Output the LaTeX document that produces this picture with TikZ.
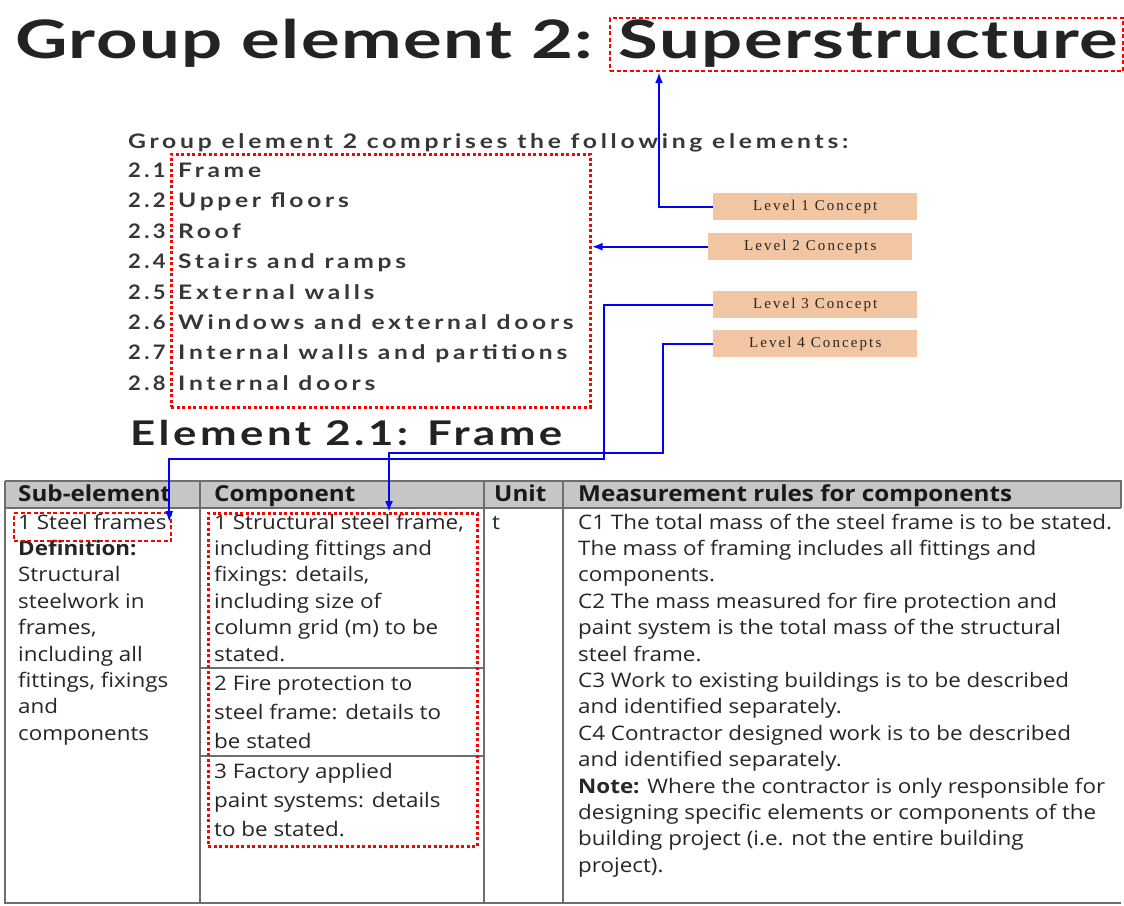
\documentclass[tikz,border=0pt]{standalone}
\usepackage{graphicx}
\usepackage{fontspec}
\setmainfont{Open Sans}
\newfontfamily\gill{Lato}[LetterSpace=2]
\newfontfamily\gillsp{Lato}[LetterSpace=15]
\newfontfamily\gillmd{Lato}[LetterSpace=8]
\newfontfamily\tms{Liberation Serif}[LetterSpace=14]
\usetikzlibrary{arrows.meta}
\newcommand\hstretch[2]{\scalebox{#1}[1]{#2}}
\newcommand\celltext[1]{\hstretch{1.12}{#1}}
\definecolor{tanbox}{RGB}{242,198,162}
\definecolor{headgray}{RGB}{198,198,198}
\definecolor{ruleg}{RGB}{110,110,110}
\definecolor{inkdark}{RGB}{35,35,35}
\definecolor{inklist}{RGB}{55,55,55}
\begin{document}
\begin{tikzpicture}[x=1pt,y=-1pt,
  redbox/.style={draw=red, line width=2.2pt, dash pattern=on 4pt off 2.5pt, inner sep=0, fill=none},
  reddot/.style={draw=red, line width=2.6pt, dash pattern=on 3pt off 2.5pt, inner sep=0, fill=none},
  lvl/.style={fill=tanbox, inner sep=0, anchor=north west, minimum width=204pt, minimum height=27pt,
              font=\tms\fontsize{15}{17}\selectfont, text=black!85},
  link/.style={draw=blue, line width=2pt},
  tip/.style={-{Latex[length=11pt,width=8pt]}},
  lstx/.style={anchor=base west, inner sep=0, font=\gillsp\bfseries\fontsize{20}{24}\selectfont, text=inklist},
  cell/.style={anchor=base west, inner sep=0, font=\fontsize{20}{24}\selectfont, text=black!85},
  hcell/.style={anchor=base west, inner sep=0, font=\bfseries\fontsize{22}{26}\selectfont, text=black!90},
  tline/.style={draw=ruleg, line width=1.2pt}]
\useasboundingbox (0,0) rectangle (1124,905);
\fill[white] (0,0) rectangle (1124,905);

% headings
\node[anchor=base west, inner sep=0, font=\gill\bfseries\fontsize{53}{60}\selectfont, text=inkdark]
  (title) at (15,58) {\resizebox{1103pt}{\height}{Group element 2: Superstructure}};
\node[lstx] (intro) at (128,148) {\resizebox{720pt}{\height}{Group element 2 comprises the following elements:}};
\foreach \t [count=\i] in {Frame, Upper floors, Roof, Stairs and ramps, External walls,
    Windows and external doors, Internal walls and partitions, Internal doors} {
  \node[lstx] (num\i) at (128,147+\i*30.4) {\hstretch{1.1}{2.\i}};
  \node[lstx] (item\i) at (178,147+\i*30.4) {\hstretch{1.23}{\t}};
}
\node[anchor=base west, inner sep=0, font=\gillmd\bfseries\fontsize{34}{40}\selectfont, text=inkdark]
  (elem) at (130,445) {\resizebox{432pt}{\height}{Element 2.1: Frame}};

% concept labels
\node[lvl] (l1) at (713,193) {Level 1 Concept};
\node[lvl] (l2) at (708,233) {Level 2 Concepts};
\node[lvl] (l3) at (713,291) {Level 3 Concept};
\node[lvl] (l4) at (713,330) {Level 4 Concepts};

% table grid
\fill[headgray] (5,481) rectangle (1121,508);
\draw[tline] (5,481) -- (1121,481) -- (1121,508);
\draw[tline] (5,508) -- (1121,508);
\draw[tline] (5,481) -- (5,903) -- (1121,903);
\draw[tline] (200,481) -- (200,903);
\draw[tline] (484,481) -- (484,903);
\draw[tline] (563,481) -- (563,903);
\draw[tline] (200,668) -- (484,668);
\draw[tline] (200,756) -- (484,756);

% header cells
\node[hcell] (h1) at (18,501) {\hstretch{1.1}{Sub-element}};
\node[hcell] (h2) at (214,501) {\hstretch{1.1}{Component}};
\node[hcell] (h3) at (494,501) {\hstretch{1.1}{Unit}};
\node[hcell] (h4) at (578,501) {\hstretch{1.1}{Measurement rules for components}};

% sub-element column
\foreach \t [count=\i from 0] in {1 Steel frames, \textbf{Definition:}, Structural, steelwork in,
    {frames,}, including all, {fittings, fixings}, and, components} {
  \node[cell] (s\i) at (18,529+\i*26.4) {\celltext{\t}};
}
% component column
\foreach \t [count=\i from 0] in {{1 Structural steel frame,}, including fittings and,
    {fixings: details,}, including size of, column grid (m) to be, stated.} {
  \node[cell] (ca\i) at (214,529+\i*26.4) {\celltext{\t}};
}
\foreach \t [count=\i from 0] in {2 Fire protection to, steel frame: details to, be stated} {
  \node[cell] (cb\i) at (214,690+\i*29) {\celltext{\t}};
}
\foreach \t [count=\i from 0] in {3 Factory applied, paint systems: details, to be stated.} {
  \node[cell] (cc\i) at (214,778+\i*29) {\celltext{\t}};
}
\node[cell] (unit) at (492,529) {\celltext{t}};
% measurement rules column
\foreach \t [count=\i from 0] in {C1 The total mass of the steel frame is to be stated.,
    The mass of framing includes all fittings and, components.,
    C2 The mass measured for fire protection and,
    paint system is the total mass of the structural, steel frame.,
    C3 Work to existing buildings is to be described, and identified separately.,
    C4 Contractor designed work is to be described, and identified separately.,
    \textbf{Note:} Where the contractor is only responsible for,
    designing specific elements or components of the,
    building project (i.e. not the entire building, project).} {
  \node[cell] (m\i) at (578,529+\i*26.4) {\celltext{\t}};
}

% highlighted regions
\node[redbox, anchor=north west, minimum width=513pt, minimum height=53pt] (sup) at (609,17) {};
\node[reddot, anchor=north west, minimum width=419pt, minimum height=253pt] (lst) at (170,153) {};
\node[redbox, anchor=north west, minimum width=157pt, minimum height=28pt] (sf) at (13,512) {};
\node[reddot, anchor=north west, minimum width=269pt, minimum height=333pt] (comp) at (207,512) {};

% connectors
\coordinate (k3) at (604,459);
\coordinate (k4) at (663,453);
\draw[link,tip] (l1.west) -| ([xshift=50pt]sup.south west);
\draw[link,tip] (l2.west) -- (l2.west -| lst.east);
\draw[link,tip] (l3.west) -| (k3) -| ([xshift=-3pt,yshift=-10pt]sf.north east);
\draw[link,tip] (l4.west) -| (k4) -| ([xshift=182pt]comp.north west);
\end{tikzpicture}
\end{document}
